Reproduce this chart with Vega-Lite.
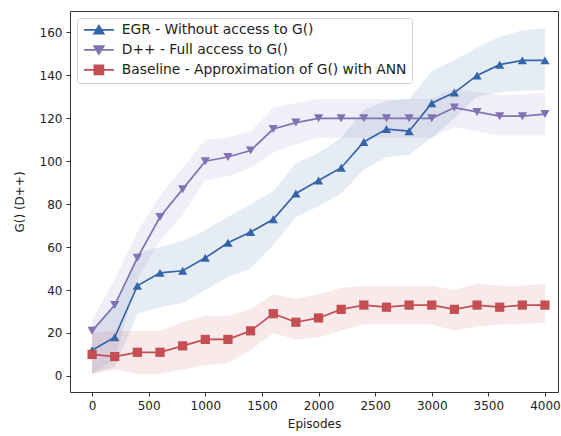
{
  "$schema": "https://vega.github.io/schema/vega-lite/v6.json",
  "width": 488,
  "height": 381,
  "autosize": {"type": "none"},
  "padding": {"left": 70, "top": 11, "right": 3, "bottom": 44},
  "background": "white",
  "config": {
    "view": {"stroke": "#333", "strokeWidth": 1},
    "font": "DejaVu Sans",
    "axis": {
      "grid": false,
      "domain": false,
      "tickColor": "#333",
      "tickSize": 4,
      "labelFont": "DejaVu Sans",
      "labelFontSize": 12,
      "labelColor": "#222",
      "titleFont": "DejaVu Sans",
      "titleFontSize": 12,
      "titleFontWeight": "normal",
      "titleColor": "#222"
    }
  },
  "data": {
    "values": [
      {"series": "EGR - Without access to G()", "ep": 0, "v": 12, "lo": 1, "hi": 22},
      {"series": "EGR - Without access to G()", "ep": 200, "v": 18, "lo": 4, "hi": 32},
      {"series": "EGR - Without access to G()", "ep": 400, "v": 42, "lo": 29, "hi": 57},
      {"series": "EGR - Without access to G()", "ep": 600, "v": 48, "lo": 32, "hi": 60},
      {"series": "EGR - Without access to G()", "ep": 800, "v": 49, "lo": 34, "hi": 63},
      {"series": "EGR - Without access to G()", "ep": 1000, "v": 55, "lo": 40, "hi": 68},
      {"series": "EGR - Without access to G()", "ep": 1200, "v": 62, "lo": 46, "hi": 74},
      {"series": "EGR - Without access to G()", "ep": 1400, "v": 67, "lo": 50, "hi": 80},
      {"series": "EGR - Without access to G()", "ep": 1600, "v": 73, "lo": 61, "hi": 86},
      {"series": "EGR - Without access to G()", "ep": 1800, "v": 85, "lo": 74, "hi": 99},
      {"series": "EGR - Without access to G()", "ep": 2000, "v": 91, "lo": 79, "hi": 104},
      {"series": "EGR - Without access to G()", "ep": 2200, "v": 97, "lo": 85, "hi": 111},
      {"series": "EGR - Without access to G()", "ep": 2400, "v": 109, "lo": 96, "hi": 124},
      {"series": "EGR - Without access to G()", "ep": 2600, "v": 115, "lo": 102, "hi": 128},
      {"series": "EGR - Without access to G()", "ep": 2800, "v": 114, "lo": 103, "hi": 129},
      {"series": "EGR - Without access to G()", "ep": 3000, "v": 127, "lo": 111, "hi": 142},
      {"series": "EGR - Without access to G()", "ep": 3200, "v": 132, "lo": 120, "hi": 147},
      {"series": "EGR - Without access to G()", "ep": 3400, "v": 140, "lo": 130, "hi": 153},
      {"series": "EGR - Without access to G()", "ep": 3600, "v": 145, "lo": 132, "hi": 158},
      {"series": "EGR - Without access to G()", "ep": 3800, "v": 147, "lo": 133, "hi": 161},
      {"series": "EGR - Without access to G()", "ep": 4000, "v": 147, "lo": 133, "hi": 162},
      {"series": "D++ - Full access to G()", "ep": 0, "v": 21, "lo": 1, "hi": 26},
      {"series": "D++ - Full access to G()", "ep": 200, "v": 33, "lo": 8, "hi": 45},
      {"series": "D++ - Full access to G()", "ep": 400, "v": 55, "lo": 45, "hi": 67},
      {"series": "D++ - Full access to G()", "ep": 600, "v": 74, "lo": 63, "hi": 84},
      {"series": "D++ - Full access to G()", "ep": 800, "v": 87, "lo": 75, "hi": 97},
      {"series": "D++ - Full access to G()", "ep": 1000, "v": 100, "lo": 91, "hi": 110},
      {"series": "D++ - Full access to G()", "ep": 1200, "v": 102, "lo": 93, "hi": 111},
      {"series": "D++ - Full access to G()", "ep": 1400, "v": 105, "lo": 97, "hi": 114},
      {"series": "D++ - Full access to G()", "ep": 1600, "v": 115, "lo": 104, "hi": 125},
      {"series": "D++ - Full access to G()", "ep": 1800, "v": 118, "lo": 108, "hi": 127},
      {"series": "D++ - Full access to G()", "ep": 2000, "v": 120, "lo": 111, "hi": 129},
      {"series": "D++ - Full access to G()", "ep": 2200, "v": 120, "lo": 111, "hi": 129},
      {"series": "D++ - Full access to G()", "ep": 2400, "v": 120, "lo": 111, "hi": 129},
      {"series": "D++ - Full access to G()", "ep": 2600, "v": 120, "lo": 111, "hi": 129},
      {"series": "D++ - Full access to G()", "ep": 2800, "v": 120, "lo": 111, "hi": 129},
      {"series": "D++ - Full access to G()", "ep": 3000, "v": 120, "lo": 111, "hi": 129},
      {"series": "D++ - Full access to G()", "ep": 3200, "v": 125, "lo": 116, "hi": 134},
      {"series": "D++ - Full access to G()", "ep": 3400, "v": 123, "lo": 114, "hi": 132},
      {"series": "D++ - Full access to G()", "ep": 3600, "v": 121, "lo": 112, "hi": 131},
      {"series": "D++ - Full access to G()", "ep": 3800, "v": 121, "lo": 112, "hi": 131},
      {"series": "D++ - Full access to G()", "ep": 4000, "v": 122, "lo": 112, "hi": 132},
      {"series": "Baseline - Approximation of G() with ANN", "ep": 0, "v": 10, "lo": 1, "hi": 20},
      {"series": "Baseline - Approximation of G() with ANN", "ep": 200, "v": 9, "lo": 3, "hi": 21},
      {"series": "Baseline - Approximation of G() with ANN", "ep": 400, "v": 11, "lo": 1, "hi": 21},
      {"series": "Baseline - Approximation of G() with ANN", "ep": 600, "v": 11, "lo": 1, "hi": 21},
      {"series": "Baseline - Approximation of G() with ANN", "ep": 800, "v": 14, "lo": 3, "hi": 25},
      {"series": "Baseline - Approximation of G() with ANN", "ep": 1000, "v": 17, "lo": 5, "hi": 28},
      {"series": "Baseline - Approximation of G() with ANN", "ep": 1200, "v": 17, "lo": 6, "hi": 28},
      {"series": "Baseline - Approximation of G() with ANN", "ep": 1400, "v": 21, "lo": 12, "hi": 31},
      {"series": "Baseline - Approximation of G() with ANN", "ep": 1600, "v": 29, "lo": 20, "hi": 38},
      {"series": "Baseline - Approximation of G() with ANN", "ep": 1800, "v": 25, "lo": 17, "hi": 36},
      {"series": "Baseline - Approximation of G() with ANN", "ep": 2000, "v": 27, "lo": 18, "hi": 38},
      {"series": "Baseline - Approximation of G() with ANN", "ep": 2200, "v": 31, "lo": 21, "hi": 41},
      {"series": "Baseline - Approximation of G() with ANN", "ep": 2400, "v": 33, "lo": 24, "hi": 42},
      {"series": "Baseline - Approximation of G() with ANN", "ep": 2600, "v": 32, "lo": 24, "hi": 42},
      {"series": "Baseline - Approximation of G() with ANN", "ep": 2800, "v": 33, "lo": 24, "hi": 42},
      {"series": "Baseline - Approximation of G() with ANN", "ep": 3000, "v": 33, "lo": 24, "hi": 42},
      {"series": "Baseline - Approximation of G() with ANN", "ep": 3200, "v": 31, "lo": 21, "hi": 40},
      {"series": "Baseline - Approximation of G() with ANN", "ep": 3400, "v": 33, "lo": 23, "hi": 43},
      {"series": "Baseline - Approximation of G() with ANN", "ep": 3600, "v": 32, "lo": 24, "hi": 42},
      {"series": "Baseline - Approximation of G() with ANN", "ep": 3800, "v": 33, "lo": 24, "hi": 42},
      {"series": "Baseline - Approximation of G() with ANN", "ep": 4000, "v": 33, "lo": 25, "hi": 43}
    ]
  },
  "encoding": {
    "x": {
      "field": "ep", "type": "quantitative", "title": "Episodes",
      "scale": {"domain": [-195, 4115], "nice": false, "zero": false},
      "axis": {"values": [0, 500, 1000, 1500, 2000, 2500, 3000, 3500, 4000], "format": "d", "labelPadding": 4, "titlePadding": 7, "labelFlush": false}
    }
  },
  "layer": [
    {
      "mark": {"type": "area", "opacity": 0.12},
      "encoding": {
        "y": {"field": "lo", "type": "quantitative"},
        "y2": {"field": "hi"},
        "color": {"field": "series", "type": "nominal"}
      }
    },
    {
      "mark": {"type": "line", "strokeWidth": 1.7},
      "encoding": {
        "y": {
          "field": "v", "type": "quantitative", "title": "G() (D++)",
          "scale": {"domain": [-7.5, 170], "nice": false, "zero": false},
          "axis": {"values": [0, 20, 40, 60, 80, 100, 120, 140, 160], "labelPadding": 4, "titlePadding": 13}
        },
        "color": {
          "field": "series", "type": "nominal",
          "scale": {"domain": ["EGR - Without access to G()", "D++ - Full access to G()", "Baseline - Approximation of G() with ANN"], "range": ["#3465a8", "#8172b3", "#c44e52"]},
          "legend": {
            "title": null,
            "orient": "none",
            "legendX": 7,
            "legendY": 7,
            "padding": 5,
            "fillColor": "white",
            "strokeColor": "#d0d0d0",
            "cornerRadius": 3,
            "labelFont": "DejaVu Sans",
            "labelFontSize": 13.8,
            "labelColor": "#222",
            "labelOffset": 26,
            "labelLimit": 400,
            "symbolSize": 100,
            "rowPadding": 4,
            "encode": {
              "symbols": {
                "update": {
                  "shape": {"signal": "datum.value === 'EGR - Without access to G()' ? 'M-1,0H5M2,-0.85L2.95,0.75L1.05,0.75Z' : datum.value === 'D++ - Full access to G()' ? 'M-1,0H5M2,0.85L2.95,-0.75L1.05,-0.75Z' : 'M-1,0H5M1.1,-0.9H2.9V0.9H1.1Z'"},
                  "fill": {"signal": "scale('color', datum.value)"},
                  "stroke": {"signal": "scale('color', datum.value)"},
                  "strokeWidth": {"value": 1.7},
                  "opacity": {"value": 1},
                  "fillOpacity": {"value": 1}
                }
              }
            }
          }
        }
      }
    },
    {
      "transform": [{"filter": "datum.series === 'EGR - Without access to G()'"}],
      "mark": {"type": "point", "filled": true, "opacity": 1, "size": 85, "shape": "triangle-up"},
      "encoding": {
        "y": {"field": "v", "type": "quantitative"},
        "color": {"field": "series", "type": "nominal"}
      }
    },
    {
      "transform": [{"filter": "datum.series === 'D++ - Full access to G()'"}],
      "mark": {"type": "point", "filled": true, "opacity": 1, "size": 85, "shape": "triangle-down"},
      "encoding": {
        "y": {"field": "v", "type": "quantitative"},
        "color": {"field": "series", "type": "nominal"}
      }
    },
    {
      "transform": [{"filter": "datum.series === 'Baseline - Approximation of G() with ANN'"}],
      "mark": {"type": "point", "filled": true, "opacity": 1, "size": 85, "shape": "square"},
      "encoding": {
        "y": {"field": "v", "type": "quantitative"},
        "color": {"field": "series", "type": "nominal"}
      }
    }
  ]
}
